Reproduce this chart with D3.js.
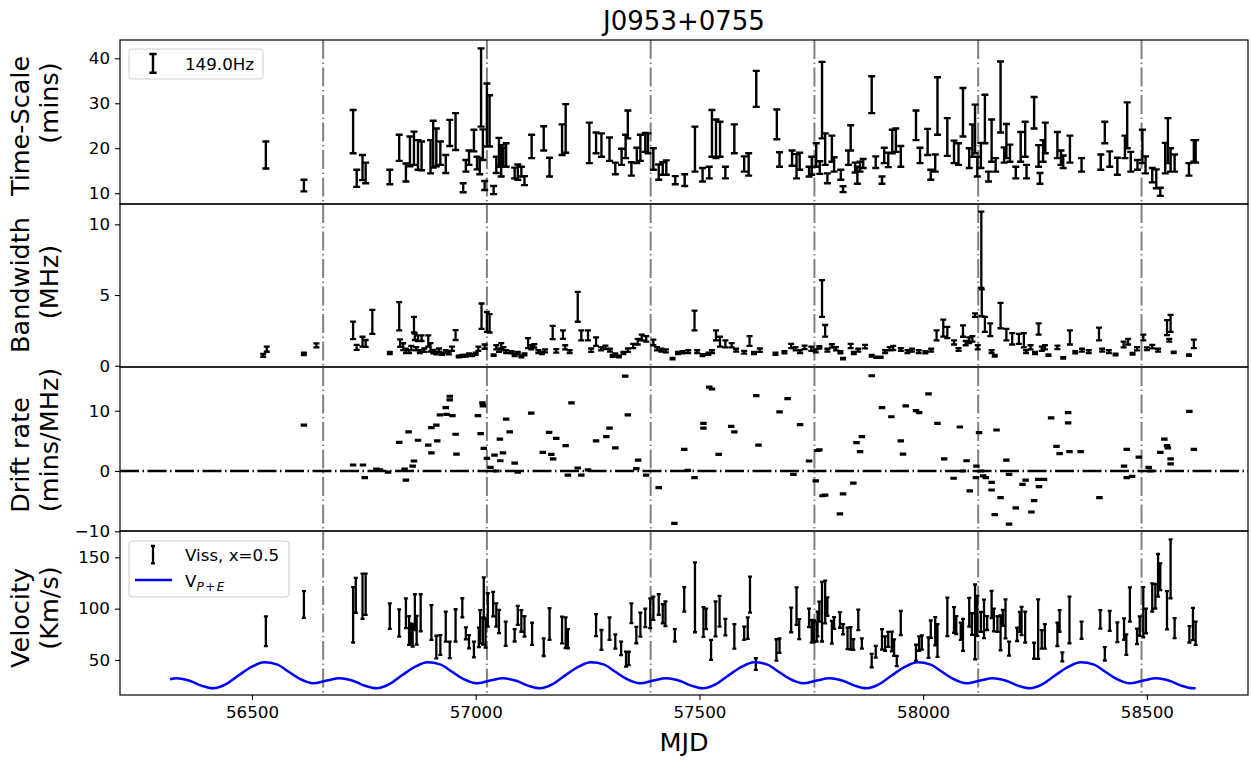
<!DOCTYPE html>
<html>
<head>
<meta charset="utf-8">
<script src="https://cdn.jsdelivr.net/npm/d3@7"></script>
<style>
  body { margin: 0; background: #fff; }
  text { font-family: "DejaVu Sans", sans-serif; }
</style>
</head>
<body>
<svg id="chart" width="1251" height="762"></svg>
<script>
// ---- data ----
const title = "J0953+0755";
const yearMarks = [56659, 57025, 57391, 57757, 58123, 58488];

// [MJD, value, error]
const timescale = [
  [56531,18.5,3],[56616,11.7,1.3],[56726,23.7,4.8],[56734,13.3,1.9],[56747,15.7,2.8],[56754,14.5,2.3],
  [56808,13.6,1.6],[56829,20.1,2.9],[56844,14.6,2.0],[56853,19.3,3.3],[56862,20.0,3.7],[56871,18.5,3.3],
  [56879,18.3,3.2],[56899,18.1,3.7],[56905,20.9,5.2],[56912,20.2,4.2],[56921,18.9,2.6],[56933,16.5,2.0],
  [56942,23.4,2.9],[56955,23.7,4.1],[56972,11.2,1.0],[56978,16.1,1.3],[56985,17.9,1.6],[56996,21.7,2.4],
  [57003,16.7,1.4],[57009,16.0,1.8],[57012,33.5,8.7],[57016,20.8,3.4],[57020,11.7,1.0],[57025,27.4,7.0],
  [57031,26.1,5.7],[57040,10.7,0.9],[57046,16.3,1.8],[57052,19.1,3.2],[57057,17.2,3.5],[57062,18.0,2.1],
  [57068,18.5,2.6],[57087,14.5,1.2],[57094,14.7,1.7],[57102,14.8,1.1],[57109,12.8,1.0],[57125,20.4,2.6],
  [57152,22.2,2.7],[57165,15.8,2.1],[57193,21.9,3.4],[57201,24.4,5.4],[57254,21.2,4.5],[57269,21.2,2.3],
  [57281,20.7,2.6],[57299,19.8,2.6],[57312,15.5,1.3],[57326,18.1,1.8],[57335,20.4,2.6],[57340,25.3,3.1],
  [57348,15.4,1.5],[57360,18.4,1.7],[57368,20.1,2.9],[57379,21.3,2.1],[57385,21.1,2.2],[57397,17.6,2.4],
  [57409,14.7,1.7],[57418,15.5,1.4],[57426,15.7,1.6],[57446,12.9,0.9],[57467,12.9,1.3],[57490,19.8,5.0],
  [57507,14.1,1.5],[57522,14.6,1.3],[57528,23.3,5.2],[57537,22.1,4.3],[57546,22.0,3.9],[57558,14.6,1.3],
  [57578,22.1,3.2],[57600,16.5,1.7],[57610,16.4,2.5],[57627,33.2,4.0],[57673,25.3,3.3],[57679,17.5,1.6],
  [57707,17.8,1.7],[57717,16.0,2.7],[57724,17.1,1.9],[57745,14.8,1.1],[57751,16.1,2.0],[57761,18.5,2.6],
  [57769,15.7,1.4],[57774,30.7,8.5],[57781,19.8,3.5],[57786,13.3,1.1],[57796,19.9,2.9],[57801,16.4,1.6],
  [57816,14.1,1.1],[57821,10.9,0.65],[57833,17.9,1.6],[57838,22.3,2.8],[57848,15.7,1.1],[57853,14.0,1.9],
  [57859,15.9,1.1],[57866,16.6,1.0],[57885,31.9,4.1],[57894,16.9,1.3],[57908,12.9,0.8],[57913,18.4,1.7],
  [57922,17.4,1.6],[57931,21.5,2.6],[57939,21.8,2.6],[57950,18.2,2.3],[57984,25.1,3.3],[57993,18.4,1.7],
  [58010,21.4,2.9],[58017,14.1,1.1],[58027,16.7,1.9],[58032,29.4,6.4],[58054,22.5,4.2],[58069,19.2,2.5],
  [58079,18.7,2.4],[58089,28.0,5.4],[58103,17.8,2.2],[58110,21.7,3.6],[58116,24.3,5.4],[58121,15.9,2.2],
  [58129,18.4,2.8],[58138,26.5,5.4],[58146,13.7,1.1],[58153,21.7,4.7],[58162,16.3,1.5],[58173,31.4,7.9],
  [58181,18.5,1.7],[58186,21.6,3.8],[58194,18.9,1.9],[58207,14.6,1.3],[58218,20.3,3.3],[58228,22.0,3.9],
  [58231,14.8,1.5],[58248,27.9,3.5],[58258,18.3,2.4],[58261,13.3,1.2],[58268,19.4,2.4],[58273,22.3,3.4],
  [58300,20.7,2.9],[58308,17.9,1.6],[58313,17.0,1.4],[58328,19.8,3.0],[58354,16.3,1.5],[58397,16.9,1.7],
  [58406,23.5,2.4],[58417,17.6,1.7],[58434,16.0,1.9],[58451,20.3,2.5],[58456,25.1,5.1],[58464,17.0,2.2],
  [58479,16.3,1.1],[58490,20.4,3.7],[58497,16.3,1.9],[58512,14.0,1.6],[58521,13.2,2.1],[58530,10.3,0.9],
  [58541,17.8,3.4],[58547,21.7,5.0],[58553,17.4,2.6],[58562,16.7,1.9],[58594,15.3,1.4],[58605,19.4,2.4],
  [58609,19.3,2.5]
];

// [MJD, value, error]
const bandwidth = [
  [56525,0.73,0.1],[56533,1.17,0.18],[56616,0.84,0.08],[56644,1.44,0.14],[56726,2.5,0.62],[56734,1.3,0.18],
  [56747,1.7,0.35],[56754,1.58,0.24],[56769,3.1,0.85],[56808,0.9,0.08],[56829,3.5,1.0],[56831,1.6,0.26],
  [56838,1.35,0.24],[56844,1.05,0.15],[56851,1.0,0.1],[56856,1.25,0.15],[56862,2.9,0.55],[56864,2.05,0.23],
  [56867,1.2,0.12],[56871,1.95,0.2],[56875,1.0,0.1],[56879,1.95,0.2],[56885,1.1,0.12],[56894,1.75,0.4],
  [56899,1.3,0.3],[56905,1.0,0.12],[56912,0.9,0.1],[56918,1.1,0.12],[56925,0.85,0.08],[56933,1.0,0.1],
  [56940,0.9,0.1],[56947,1.2,0.15],[56955,2.17,0.35],[56962,0.65,0.06],[56970,0.7,0.07],[56978,0.72,0.07],
  [56985,0.8,0.08],[56992,0.75,0.07],[57000,0.85,0.08],[57006,1.2,0.15],[57013,3.5,0.9],[57020,1.35,0.15],
  [57025,3.1,0.7],[57031,3.0,0.65],[57040,0.75,0.06],[57046,1.3,0.15],[57052,1.1,0.12],[57057,1.4,0.2],
  [57062,1.2,0.12],[57068,1.0,0.1],[57080,0.95,0.08],[57087,0.75,0.07],[57094,0.9,0.08],[57102,0.65,0.06],
  [57109,0.8,0.07],[57117,1.6,0.35],[57124,1.3,0.15],[57131,1.4,0.12],[57140,1.0,0.1],[57148,0.9,0.08],
  [57155,1.05,0.1],[57172,2.35,0.47],[57180,1.05,0.12],[57195,2.2,0.3],[57200,1.3,0.15],[57210,1.0,0.1],
  [57228,4.17,1.06],[57236,2.15,0.35],[57251,2.15,0.35],[57258,1.1,0.12],[57269,1.7,0.3],[57280,1.2,0.12],
  [57290,1.3,0.12],[57300,1.1,0.1],[57306,0.7,0.07],[57312,0.8,0.08],[57320,0.65,0.06],[57330,0.9,0.08],
  [57340,1.1,0.12],[57352,1.4,0.15],[57362,1.7,0.2],[57371,2.0,0.2],[57381,1.9,0.2],[57397,1.65,0.2],
  [57405,1.2,0.12],[57415,1.1,0.1],[57425,1.05,0.1],[57440,0.5,0.05],[57452,0.9,0.08],[57462,0.95,0.08],
  [57475,1.0,0.1],[57489,3.2,0.7],[57495,1.0,0.1],[57507,0.75,0.07],[57520,0.85,0.08],[57528,1.0,0.1],
  [57537,2.15,0.35],[57546,1.7,0.35],[57558,1.55,0.25],[57572,1.45,0.15],[57582,1.1,0.1],[57600,0.95,0.1],
  [57612,1.75,0.35],[57622,0.9,0.08],[57635,1.1,0.12],[57670,0.85,0.08],[57690,0.95,0.08],[57705,1.4,0.15],
  [57715,1.2,0.12],[57725,1.0,0.1],[57735,1.3,0.12],[57750,1.2,0.15],[57760,1.05,0.1],[57768,1.3,0.08],
  [57774,4.76,1.3],[57781,2.47,0.41],[57786,1.1,0.1],[57796,1.4,0.12],[57805,1.2,0.12],[57815,0.95,0.08],
  [57821,0.5,0.05],[57838,1.4,0.15],[57845,0.9,0.08],[57855,1.1,0.1],[57870,1.35,0.12],[57885,0.7,0.06],
  [57895,0.6,0.05],[57905,0.6,0.05],[57915,1.0,0.1],[57925,1.2,0.12],[57933,1.25,0.15],[57950,1.15,0.1],
  [57965,1.0,0.1],[57975,1.1,0.1],[57990,1.0,0.1],[58005,0.95,0.08],[58018,1.1,0.1],[58030,2.15,0.35],
  [58045,2.66,0.6],[58054,2.35,0.4],[58069,1.65,0.15],[58079,1.15,0.1],[58089,2.45,0.4],[58095,1.6,0.15],
  [58103,1.8,0.2],[58110,1.9,0.2],[58116,3.58,0.12],[58122,1.3,0.15],[58130,8.2,2.7],[58131,4.45,0.95],
  [58138,2.93,0.53],[58150,2.55,0.45],[58153,1.0,0.1],[58160,0.7,0.06],[58173,3.55,0.9],[58186,2.2,0.4],
  [58199,1.9,0.4],[58214,1.9,0.35],[58225,1.8,0.5],[58230,1.0,0.1],[58240,1.3,0.15],[58250,0.9,0.08],
  [58258,2.6,0.4],[58265,1.2,0.15],[58272,1.3,0.15],[58280,0.75,0.06],[58300,1.3,0.12],[58313,0.55,0.05],
  [58328,2.0,0.5],[58340,0.95,0.08],[58355,1.1,0.1],[58370,1.0,0.1],[58393,2.25,0.45],[58400,1.1,0.1],
  [58415,1.0,0.1],[58430,0.8,0.06],[58448,1.5,0.2],[58458,1.7,0.2],[58468,0.85,0.06],[58478,1.2,0.12],
  [58492,2.0,0.2],[58500,1.2,0.1],[58512,1.35,0.12],[58525,1.1,0.1],[58545,2.7,0.53],[58550,1.8,0.1],
  [58553,3.0,0.6],[58560,0.95,0.05],[58594,0.75,0.06],[58605,1.55,0.3]
];

// [MJD, value] ; drift errors are tiny (below line width)
const drift = [
  [56616,7.6],[56726,1.0],[56748,1.0],[56752,-1.1],[56778,0.3],[56786,0.2],[56804,-0.2],[56829,4.75],
  [56841,0.3],[56844,-1.5],[56850,6.5],[56859,0.8],[56862,1.66],[56871,5.1],[56894,4.3],[56901,7.2],
  [56901,3.0],[56912,7.6],[56914,5.0],[56920,9.3],[56933,10.5],[56935,9.4],[56942,12.4],[56942,11.8],
  [56948,9.2],[56955,6.1],[56957,2.8],[57005,9.2],[57011,6.2],[57015,11.3],[57016,10.8],[57018,3.75],
  [57025,2.1],[57033,0.6],[57042,2.65],[57046,0.0],[57054,5.3],[57055,1.7],[57061,3.0],[57068,8.6],
  [57076,6.5],[57087,1.3],[57094,-0.2],[57124,9.6],[57150,3.1],[57164,6.4],[57169,2.75],[57173,2.0],
  [57180,5.4],[57201,4.2],[57206,-0.67],[57214,11.3],[57228,0.5],[57236,-0.67],[57251,0.2],[57269,5.0],
  [57292,5.7],[57299,7.1],[57312,3.85],[57334,15.75],[57340,9.3],[57359,0.4],[57363,1.8],[57381,-0.67],
  [57409,-2.75],[57444,-8.7],[57466,3.6],[57474,0.1],[57489,-1.1],[57509,7.9],[57509,7.1],[57522,13.9],
  [57528,13.6],[57543,2.75],[57571,7.4],[57578,6.5],[57627,12.5],[57632,4.3],[57679,9.8],[57697,12.0],
  [57710,-0.55],[57725,7.7],[57745,1.66],[57760,-1.65],[57764,3.4],[57768,3.5],[57775,-4.1],[57781,-4.0],
  [57814,-7.1],[57821,-3.8],[57844,-2.0],[57851,4.7],[57859,3.2],[57863,5.7],[57885,15.8],[57908,10.5],
  [57929,9.0],[57950,5.0],[57955,2.8],[57961,10.8],[57984,10.0],[57991,9.7],[58012,12.8],[58032,7.9],
  [58047,2.0],[58068,-1.2],[58082,7.3],[58089,0.0],[58097,1.7],[58104,-3.3],[58118,-1.1],[58119,0.8],
  [58125,6.35],[58129,0.0],[58134,-0.8],[58140,-1.1],[58153,-1.9],[58153,-3.15],[58160,-7.25],[58164,6.8],
  [58173,-4.4],[58186,1.8],[58192,-0.55],[58192,-8.8],[58207,-6.1],[58222,-2.2],[58229,-1.5],[58242,-6.8],
  [58248,-4.9],[58257,-1.4],[58259,-2.6],[58270,-1.4],[58286,8.8],[58298,4.1],[58305,2.9],[58324,9.7],
  [58324,8.0],[58327,3.2],[58352,3.2],[58394,-4.4],[58449,0.8],[58455,3.6],[58455,-1.1],[58467,-0.9],
  [58482,2.3],[58504,0.6],[58508,0.0],[58530,3.1],[58539,5.3],[58545,4.2],[58547,3.85],[58553,2.0],
  [58553,1.2],[58595,9.9],[58605,3.6]
];
const driftErr = 0.1;

// [MJD, value, error]
const velocity = [
  [56531,78,14.5],[56616,104,13],[56726,94,27],[56732,113,17],[56747,112,22],[56754,114,20],
  [56808,92.7,12.5],[56829,86,13.3],[56844,95.5,14.5],[56851,78.7,14],[56854,76,9.7],[56859,74,11],
  [56864,96.5,17.5],[56868,79,14],[56877,96,18],[56901,86.5,17],[56912,62.6,11],[56921,64.6,9.7],
  [56933,82.4,14.6],[56942,59.8,8],[56955,83.6,15.8],[56970,100.8,9.3],[56978,76,5.8],[56985,67.8,6.5],
  [56996,60.2,7.6],[57007,72,9.5],[57010,82.5,16],[57016,78,13],[57018,111,19.5],[57022,76,14],
  [57027,98.7,16.3],[57039,104.4,12],[57046,93.8,11.4],[57052,87.4,11.3],[57067,75.5,11.8],[57087,74,6],
  [57094,93.4,9.2],[57102,88,10.5],[57109,82.8,10],[57126,75.5,10.8],[57152,62.5,8.6],[57165,85,15.5],
  [57193,79.2,13],[57201,76.5,15],[57206,70.7,9.3],[57269,84,10.7],[57281,69.5,9.7],[57299,80.5,11],
  [57312,68,7],[57325,61.3,6.5],[57336,50.8,7.3],[57342,51.5,6.5],[57348,95.5,9.7],[57359,74.3,8],
  [57368,84.4,11.7],[57379,91,9],[57390,95.5,14.5],[57397,100.3,11.3],[57409,104,10],[57418,95,9.3],
  [57424,95,12],[57445,74,6],[57466,109,12],[57490,111,34],[57509,87,14.5],[57515,90,10],
  [57526,59.8,9.7],[57536,90,17],[57545,97.4,15],[57558,82,8],[57578,73,12],[57600,76,6.5],
  [57608,81,10.5],[57613,113.6,17.5],[57626,46,5.7],[57672,59.8,10.4],[57679,64,7],[57705,89,12],
  [57717,102.4,18.3],[57723,80,9.7],[57745,91,9],[57751,78,11],[57756,78,10.5],[57762,77.5,9.5],
  [57764,85,12],[57768,97,9.7],[57774,97,29],[57781,106.4,20.8],[57786,102,9],[57796,77,11],
  [57801,86,5.7],[57814,89,7.6],[57821,80,5],[57831,71,10.5],[57838,71,11],[57844,65,5.2],
  [57855,89,10],[57863,66,5],[57885,49.4,6.5],[57894,58,5.7],[57908,70,10],[57915,66,7],
  [57922,70,7.3],[57930,68,9.7],[57935,62,8],[57941,49,5],[57950,86,11.7],[57984,57,8],
  [57991,66,7],[57997,67,7],[58012,62,10],[58017,80,8.5],[58027,78,13.8],[58032,69,16],
  [58054,92,18.7],[58069,89,12.5],[58074,84,8.7],[58084,78,8.4],[58089,74.5,15.6],[58103,96.5,14],
  [58109,85,10.5],[58116,87,36.5],[58121,93,19.5],[58129,87,9.7],[58136,90,18.7],[58143,86,6.8],
  [58153,104,13.3],[58158,89,11],[58166,85,7.6],[58173,76.5,17],[58178,91,7.8],[58184,90,19],
  [58192,61,6.8],[58210,75,6.5],[58216,87,9.7],[58220,88,13.8],[58228,82,15],[58248,59,7.8],
  [58257,80,29],[58265,70,9],[58272,73,12],[58300,75,11.4],[58305,88,10.5],[58311,53,4.4],
  [58327,89,22.7],[58354,79,8.4],[58396,89.5,9],[58406,56,6.5],[58417,88,9.7],[58434,77,9.7],
  [58449,80,10.5],[58454,65,10],[58462,104,16.7],[58478,73,7.6],[58484,83,9.4],[58492,96.5,24.5],
  [58498,88,12],[58512,110.8,13.8],[58519,112,12],[58525,132.4,20.8],[58530,131,13],[58545,98.5,18.6],
  [58553,138.8,28.7],[58562,81,9.7],[58595,75,8],[58603,85,15.7],[58609,76,11.3]
];

// V_{P+E} model curve, [MJD, km/s]
const vModel = [
  [56317,31.2],[56331,32.2],[56362,29.5],[56387,25.0],[56413,22.4],[56442,26.5],[56470,35.0],[56500,43.5],
  [56527,47.8],[56557,45.5],[56582,38.5],[56607,31.5],[56637,27.3],[56667,30.0],[56696,32.2],[56727,29.5],
  [56752,25.0],[56778,22.4],[56807,26.5],[56835,35.0],[56865,43.5],
  [56892,47.8],[56922,45.5],[56947,38.5],[56972,31.5],[57002,27.3],[57032,30.0],[57061,32.2],[57092,29.5],
  [57117,25.0],[57143,22.4],[57172,26.5],[57200,35.0],[57230,43.5],
  [57257,47.8],[57287,45.5],[57312,38.5],[57337,31.5],[57367,27.3],[57397,30.0],[57426,32.2],[57457,29.5],
  [57482,25.0],[57508,22.4],[57537,26.5],[57565,35.0],[57595,43.5],
  [57622,47.8],[57652,45.5],[57677,38.5],[57702,31.5],[57732,27.3],[57762,30.0],[57791,32.2],[57822,29.5],
  [57847,25.0],[57873,22.4],[57902,26.5],[57930,35.0],[57960,43.5],
  [57987,47.8],[58017,45.5],[58042,38.5],[58067,31.5],[58097,27.3],[58127,30.0],[58156,32.2],[58187,29.5],
  [58212,25.0],[58238,22.4],[58267,26.5],[58295,35.0],[58325,43.5],
  [58352,47.8],[58382,45.5],[58407,38.5],[58432,31.5],[58462,27.3],[58492,30.0],[58521,32.2],[58552,29.5],
  [58577,25.0],[58603,22.4],[58609,22.6]
];

const xTicks = [56500, 57000, 57500, 58000, 58500];

// ---- layout ----
const svg = d3.select("#chart");
const L = 120, R = 1248;
const x = d3.scaleLinear().domain([56205, 58726]).range([L, R]);

const panels = [
  { top: 40,  bottom: 204, domain: [7.6, 44.07],   ticks: [10, 20, 30, 40],
    label: ["Time-Scale", "(mins)"], c1: 126, c2: 103 },
  { top: 204, bottom: 367, domain: [-0.09, 11.44], ticks: [0, 5, 10],
    label: ["Bandwidth", "(MHz)"], c1: 285, c2: 282 },
  { top: 367, bottom: 531, domain: [-9.95, 17.25], ticks: [-10, 0, 10],
    label: ["Drift rate", "(mins/MHz)"], c1: 455, c2: 440 },
  { top: 531, bottom: 695, domain: [15.9, 175.6],  ticks: [50, 100, 150],
    label: ["Velocity", "(Km/s)"], c1: 618, c2: 608 }
];
panels.forEach(p => { p.y = d3.scaleLinear().domain(p.domain).range([p.bottom, p.top]); });

const defs = svg.append("defs");
panels.forEach((p, i) => {
  defs.append("clipPath").attr("id", "clip" + i)
    .append("rect").attr("x", L).attr("y", p.top).attr("width", R - L).attr("height", p.bottom - p.top);
});

function errorbars(g, data, y, capW, lw, errOf) {
  const path = d3.path();
  data.forEach(d => {
    const e = errOf ? errOf(d) : d[2];
    const cx = x(d[0]), y0 = y(d[1] - e), y1 = y(d[1] + e);
    path.moveTo(cx, y0); path.lineTo(cx, y1);
    path.moveTo(cx - capW / 2, y0); path.lineTo(cx + capW / 2, y0);
    path.moveTo(cx - capW / 2, y1); path.lineTo(cx + capW / 2, y1);
  });
  g.append("path").attr("d", path.toString())
    .attr("fill", "none").attr("stroke", "#000").attr("stroke-width", lw);
}

panels.forEach((p, i) => {
  const g = svg.append("g");
  const inner = g.append("g").attr("clip-path", `url(#clip${i})`);

  // yearly dash-dot markers
  inner.selectAll("line.year").data(yearMarks).join("line")
    .attr("x1", d => x(d)).attr("x2", d => x(d))
    .attr("y1", p.top).attr("y2", p.bottom)
    .attr("stroke", "#808080").attr("stroke-width", 2)
    .attr("stroke-dasharray", "19,3.5,1.5,3.5");

  if (i === 0) errorbars(inner, timescale, p.y, 7, 2.4);
  if (i === 1) errorbars(inner, bandwidth, p.y, 6, 2.3);
  if (i === 2) {
    inner.append("line")
      .attr("x1", L).attr("x2", R).attr("y1", p.y(0)).attr("y2", p.y(0))
      .attr("stroke", "#000").attr("stroke-width", 2.4)
      .attr("stroke-dasharray", "19,3.5,1.5,3.5");
    errorbars(inner, drift, p.y, 6.5, 2, () => driftErr);
  }
  if (i === 3) {
    errorbars(inner, velocity, p.y, 4, 2.3);
    const line = d3.line().x(d => x(d[0])).y(d => p.y(d[1])).curve(d3.curveMonotoneX);
    inner.append("path").datum(vModel).attr("d", line)
      .attr("fill", "none").attr("stroke", "#0000ff").attr("stroke-width", 2.5);
  }

  // y axis
  const ax = g.append("g").attr("transform", `translate(${L},0)`)
    .call(d3.axisLeft(p.y).tickValues(p.ticks).tickSize(5).tickPadding(5));
  ax.select(".domain").remove();
  ax.selectAll("text").attr("font-size", 16.7).attr("font-family", "DejaVu Sans").attr("fill", "#000");
  ax.selectAll("line").attr("stroke", "#000").attr("stroke-width", 1.1);

  // frame
  g.append("rect").attr("x", L).attr("y", p.top).attr("width", R - L).attr("height", p.bottom - p.top)
    .attr("fill", "none").attr("stroke", "#000").attr("stroke-width", 1.2);

  // y label (two lines)
  g.append("text").attr("transform", `translate(29,${p.c1}) rotate(-90)`)
    .attr("text-anchor", "middle").attr("font-size", 25.5).text(p.label[0]);
  g.append("text").attr("transform", `translate(58,${p.c2}) rotate(-90)`)
    .attr("text-anchor", "middle").attr("font-size", 25.5).text(p.label[1]);
});

// x axis on bottom panel
const xa = svg.append("g").attr("transform", `translate(0,${panels[3].bottom})`)
  .call(d3.axisBottom(x).tickValues(xTicks).tickFormat(d3.format("d")).tickSize(5).tickPadding(6));
xa.select(".domain").remove();
xa.selectAll("text").attr("font-size", 16.7).attr("font-family", "DejaVu Sans").attr("fill", "#000");
xa.selectAll("line").attr("stroke", "#000").attr("stroke-width", 1.1);

svg.append("text").attr("x", (L + R) / 2).attr("y", 751).attr("text-anchor", "middle")
  .attr("font-size", 25.5).text("MJD");
svg.append("text").attr("x", (L + R) / 2).attr("y", 30).attr("text-anchor", "middle")
  .attr("font-size", 26).text(title);

// legends
const lg1 = svg.append("g");
lg1.append("rect").attr("x", 129).attr("y", 49).attr("width", 134).attr("height", 30).attr("rx", 3)
  .attr("fill", "#fff").attr("fill-opacity", 0.8).attr("stroke", "#cccccc");
lg1.append("path").attr("d", "M153,54V72.7M149.3,54H156.7M149.3,72.7H156.7")
  .attr("stroke", "#000").attr("stroke-width", 2.4).attr("fill", "none");
lg1.append("text").attr("x", 185).attr("y", 70).attr("font-size", 16.7).text("149.0Hz");

const lg4 = svg.append("g");
lg4.append("rect").attr("x", 129).attr("y", 541).attr("width", 160).attr("height", 56).attr("rx", 3)
  .attr("fill", "#fff").attr("fill-opacity", 0.8).attr("stroke", "#cccccc");
lg4.append("path").attr("d", "M153,546V563.3M151,546H155M151,563.3H155")
  .attr("stroke", "#000").attr("stroke-width", 2.3).attr("fill", "none");
lg4.append("text").attr("x", 185).attr("y", 561).attr("font-size", 16.7).text("Viss, x=0.5");
lg4.append("line").attr("x1", 135).attr("x2", 172).attr("y1", 580).attr("y2", 580)
  .attr("stroke", "#0000ff").attr("stroke-width", 2.5);
const vt = lg4.append("text").attr("x", 185).attr("y", 587).attr("font-size", 16.7);
vt.append("tspan").text("V");
vt.append("tspan").attr("dy", 3.5).attr("font-size", 12).attr("font-style", "italic").text("P");
vt.append("tspan").attr("font-size", 12).attr("dx", 1.5).text("+");
vt.append("tspan").attr("font-size", 12).attr("dx", 1.5).attr("font-style", "italic").text("E");
</script>
</body>
</html>
